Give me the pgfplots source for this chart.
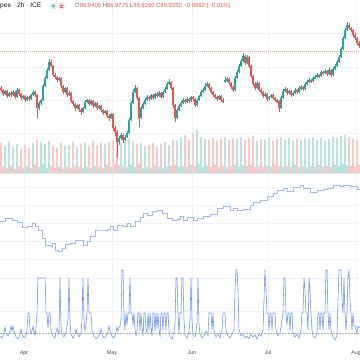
\documentclass[border=0pt]{standalone}
\usepackage{fontspec}
\setmainfont{Liberation Sans}
\usepackage{pgfplots}
\pgfplotsset{compat=1.18}
\usepackage{pgfplotstable}
\definecolor{up}{HTML}{26A69A}
\definecolor{dn}{HTML}{EF5350}
\definecolor{upv}{HTML}{96D3CD}
\definecolor{dnv}{HTML}{F6ABA9}
\definecolor{ln}{HTML}{2962FF}
\definecolor{txt}{HTML}{131722}
\definecolor{gridc}{HTML}{E3E6EC}
\definecolor{pline}{HTML}{F4A3A3}

\pgfplotstableread{
x o h l c v
1 88 86 92 90 30
3 90 89 96 94 6
5 94 90 95 91 27
7 91 90 98 96 5
9 96 92 97 93 31
11 93 91 97 95 7
13 95 90 96 92 26
15 92 91 99 97 4
17 97 88 98 90 29
19 90 89 96 94 6
21 94 93 100 98 24
23 98 95 99 96 5
25 96 95 102 100 28
27 100 96 101 97 7
29 97 96 101 99 25
31 99 94 100 95 5
33 95 90 96 92 30
35 92 91 97 95 8
37 95 94 118 108 33
39 108 101 110 103 6
41 103 99 105 100 31
43 100 84 101 86 9
45 86 76 87 78 29
47 78 68 79 70 5
49 70 59 71 62 32
51 62 60 68 66 7
53 66 65 77 75 27
55 75 73 79 77 5
57 77 76 82 80 25
59 80 77 81 78 6
61 78 77 88 86 30
63 86 85 94 92 4
65 92 87 93 88 27
67 88 87 97 95 6
69 95 91 96 93 28
71 93 92 103 101 5
73 101 100 106 104 31
75 104 103 111 108 7
77 108 104 109 105 26
79 105 104 112 110 6
81 110 108 115 112 29
83 112 107 113 108 5
85 108 100 109 102 30
87 102 99 103 100 6
89 100 99 106 104 27
91 104 100 105 101 5
93 101 100 108 106 32
95 106 102 107 103 7
97 103 102 110 108 28
99 108 105 109 106 6
101 106 105 112 110 30
103 110 109 115 113 5
105 113 110 114 111 29
107 111 110 118 116 8
109 116 114 121 118 31
111 118 113 119 114 6
113 114 113 131 128 33
115 128 126 136 132 9
117 132 130 158 142 35
119 142 136 145 138 8
121 138 133 140 135 30
123 135 134 143 140 7
125 140 135 141 137 32
127 137 131 138 133 6
129 133 118 134 120 34
131 120 101 121 103 8
133 103 89 104 92 31
135 92 85 93 88 6
137 88 87 100 98 29
139 98 97 127 118 9
141 118 106 119 108 30
143 108 102 109 104 5
145 104 98 105 100 27
147 100 95 101 97 6
149 97 96 101 99 28
151 99 94 100 95 5
153 95 94 100 98 30
155 98 93 99 94 7
157 94 92 98 96 26
159 96 91 97 93 6
161 93 92 99 97 29
163 97 91 98 92 5
165 92 87 93 89 31
167 89 82 90 84 6
169 84 79 85 82 28
171 82 81 90 88 7
173 88 87 108 105 33
175 105 104 122 118 8
177 118 108 119 110 32
179 110 104 111 106 6
181 106 101 107 103 35
183 103 98 104 100 7
185 100 99 104 102 38
187 102 97 103 99 6
189 99 98 103 101 33
191 101 96 102 97 8
193 97 96 101 99 40
195 99 98 107 105 7
197 105 99 106 100 43
199 100 95 101 96 9
201 96 90 97 92 36
203 92 88 93 90 6
205 90 83 91 86 34
207 86 82 87 84 7
209 84 83 90 88 33
211 88 87 94 92 6
213 92 91 97 95 35
215 95 94 99 97 8
217 97 96 101 99 32
219 99 95 100 96 6
221 96 95 102 100 34
223 100 98 103 101 7
225 82 77 83 80 36
227 80 77 82 79 6
229 79 78 85 83 33
231 83 82 89 87 7
233 87 86 92 90 35
235 90 76 91 78 8
237 78 70 79 72 34
239 72 64 73 66 6
241 66 59 67 61 36
243 61 53 62 56 8
245 56 55 65 63 33
247 63 55 64 57 7
249 57 56 68 66 35
251 66 65 78 76 8
253 76 75 86 84 37
255 84 82 90 88 6
257 88 81 89 83 32
259 83 82 92 90 7
261 90 88 94 92 34
263 92 91 98 96 6
265 96 92 97 94 33
267 94 93 101 99 7
269 99 96 100 97 35
271 97 94 98 95 6
273 95 94 100 98 32
275 98 97 102 100 8
277 100 99 103 101 34
279 101 100 112 108 7
281 108 96 109 98 36
283 98 89 99 91 6
285 91 87 92 89 33
287 89 88 95 93 7
289 93 90 94 91 35
291 91 90 97 95 6
293 95 92 96 93 32
295 93 88 94 90 8
297 90 89 94 92 34
299 92 86 93 88 6
301 88 85 90 87 33
303 87 86 91 89 7
305 89 82 90 84 35
307 84 80 85 82 6
309 82 78 83 80 34
311 80 79 83 81 7
313 81 76 82 78 36
315 78 75 79 77 6
317 77 73 78 75 33
319 75 74 78 76 8
321 76 70 77 72 35
323 72 71 75 73 6
325 73 69 74 71 32
327 71 70 76 74 7
329 74 68 75 70 34
331 70 69 77 75 6
333 75 67 76 69 36
335 69 64 70 66 8
337 66 60 67 62 35
339 62 55 63 57 7
341 57 47 58 49 37
343 49 36 50 38 9
345 38 28 39 30 38
347 30 22 31 25 8
349 25 23 30 28 36
351 28 27 32 30 7
353 30 29 37 35 34
355 35 33 40 38 6
357 38 37 45 43 33
359 43 41 48 46 8
}\candles

\pgfplotstableread{
x y
0 221.7
5 218
12 220
17 222.7
22 227.7
27 226.7
32 223
35 226.7
38 230
42 238
45 245
50 246.7
52 243
55 250
58 251.7
62 248
65 244
70 243
75 240.7
80 240
83 245
87 241.7
90 236.7
95 230
100 230
107 229
110 226.7
113 230
117 225
122 226.7
127 223.3
130 226.7
135 221.7
140 217.3
143 213.3
147 215
152 211.7
157 210
162 213.3
167 218.3
172 220
177 219.3
180 216.7
183 220
187 217.7
193 220
197 218.3
203 216.7
210 214
217 208.3
223 206
227 206.7
230 210.7
233 208.3
237 210
243 209.3
250 205
253 202.7
260 200
267 196.7
273 193.3
277 190
283 188.3
287 191.7
293 187.3
300 185
303 188.3
310 192.7
317 190
323 189.3
327 188.3
333 185
340 186
343 185
350 186.7
357 189.3
360 192.7
}\lineB

\pgfplotstableread{
x y
0 336
2 338
4 333
5 327
6 333
8 336
10 331
11 326
12 331
13 326
14 331
16 337
18 339
20 334
21 329
22 334
24 338
26 336
27 330
28 313
29 313
30 328
31 334
32 331
33 326
34 331
35 336
36 328
37 314
38 278
45 278
45.5 290
46 313
47 313
48 328
49 313
50 313
51 330
53 336
55 338
56 332
57 328
59 334
60 278
61 325
62 334
64 337
66 332
67 327
68 320
69 278
70 322
71 334
73 338
75 335
76 329
77 333
79 337
81 333
82 320
83 278
84 320
85 330
86 325
87 312
88 278
89 312
90 313
91 313
92 330
94 336
96 339
98 337
100 333
101 328
102 334
104 338
106 336
108 331
109 326
110 331
112 336
114 338
116 332
117 327
118 331
120 326
121 320
122 270
123 270
124 315
125 330
126 313
127 325
128 313
129 313
130 278
131 313
132 313
133 325
134 313
135 330
136 336
137 331
138 313
139 313
140 330
141 313
142 327
143 336
144 313
145 313
146 330
147 333
148 313
149 330
150 313
151 326
152 336
153 313
154 313
155 331
156 313
157 328
158 313
159 330
160 336
161 313
162 313
163 330
164 313
165 313
166 330
167 313
168 313
169 330
170 337
172 339
174 332
175 324
176 278
177 278
178 313
179 334
180 313
181 313
182 278
183 278
184 320
185 335
187 338
189 332
190 320
191 278
192 320
193 334
195 337
197 325
198 278
199 325
200 334
202 338
204 336
206 331
208 335
209 313
211 313
212 330
213 313
214 330
216 337
218 334
220 338
222 330
223 313
225 313
226 330
228 336
230 338
232 334
234 330
235 290
236 270
237 270
238 290
239 330
241 336
243 334
245 338
247 336
249 339
251 334
253 337
255 335
257 339
259 334
261 336
263 330
264 300
265 270
266 290
267 313
268 313
269 330
270 313
271 313
272 330
273 313
275 313
276 330
278 336
280 333
282 320
283 313
284 278
285 278
286 313
287 325
288 313
289 313
290 330
291 313
292 313
293 333
295 337
297 334
299 338
301 330
302 313
303 313
304 278
305 290
306 313
307 313
308 330
309 278
310 290
311 313
312 330
313 336
315 338
317 334
318 313
319 313
320 330
321 313
322 313
323 330
324 313
325 313
326 270
327 270
328 313
329 330
330 313
331 330
333 337
335 340
337 335
338 300
339 270
341 270
342 300
343 313
344 278
345 313
346 330
347 313
348 278
349 270
350 300
351 313
352 330
353 313
354 326
355 326
356 330
357 333
358 326
360 328
}\lineC

\begin{document}
\begin{tikzpicture}
\useasboundingbox (0pt,0pt) rectangle (360pt,360pt);
\pgfplotsset{
  pane/.style={
    scale only axis, width=360pt, xmin=0, xmax=360,
    anchor=south west,
    axis line style={draw=none}, tick style={draw=none},
    xtick={24,112,192,268,356},
    xticklabel=\empty, yticklabel=\empty,
    grid=major,
    grid style={dash pattern=on 0.8pt off 1.2pt, color=gridc, line width=0.5pt},
    clip=true,
  },
}
% volume
\begin{axis}[pane, at={(0pt,187pt)}, height=48pt, ymin=0, ymax=48, grid=none, ytick=\empty, xtick=\empty]
  \addplot[ybar, bar width=1.1pt, bar shift=0pt, draw=none, fill=upv]
    table[x=x, y expr={\thisrow{c}<\thisrow{o} ? \thisrow{v} : nan}] {\candles};
  \addplot[ybar, bar width=1.1pt, bar shift=0pt, draw=none, fill=dnv]
    table[x=x, y expr={\thisrow{c}<\thisrow{o} ? nan : \thisrow{v}}] {\candles};
\end{axis}
% price
\begin{axis}[pane, at={(0pt,187pt)}, height=173pt, ymin=0, ymax=173, y dir=reverse,
  ytick={33,67,100,133}]
  \addplot[dash pattern=on 0.8pt off 1.2pt, color=pline, line width=0.6pt] coordinates {(0,51) (360,51)};
  \addplot[draw=none, mark=none, error bars/.cd, y dir=both, y explicit, error mark=none,
    error bar style={up, line width=0.4pt}]
    table[x=x, y expr={\thisrow{c}<\thisrow{o} ? (\thisrow{h}+\thisrow{l})/2 : nan},
      y error expr={(\thisrow{l}-\thisrow{h})/2}] {\candles};
  \addplot[draw=none, mark=none, error bars/.cd, y dir=both, y explicit, error mark=none,
    error bar style={dn, line width=0.4pt}]
    table[x=x, y expr={\thisrow{c}<\thisrow{o} ? nan : (\thisrow{h}+\thisrow{l})/2},
      y error expr={(\thisrow{l}-\thisrow{h})/2}] {\candles};
  \addplot[draw=none, mark=none, error bars/.cd, y dir=both, y explicit, error mark=none,
    error bar style={up, line width=1.1pt}]
    table[x=x, y expr={\thisrow{c}<\thisrow{o} ? (\thisrow{o}+\thisrow{c})/2 : nan},
      y error expr={abs(\thisrow{o}-\thisrow{c})/2+0.3}] {\candles};
  \addplot[draw=none, mark=none, error bars/.cd, y dir=both, y explicit, error mark=none,
    error bar style={dn, line width=1.1pt}]
    table[x=x, y expr={\thisrow{c}<\thisrow{o} ? nan : (\thisrow{o}+\thisrow{c})/2},
      y error expr={abs(\thisrow{o}-\thisrow{c})/2+0.3}] {\candles};
\end{axis}
\draw[color=gridc, line width=0.6pt] (0pt,187pt) -- (360pt,187pt);
% pane 2
\begin{axis}[pane, at={(0pt,99pt)}, height=88pt, ymin=173, ymax=261, y dir=reverse,
  ytick={187,205,223,241,259}]
  \addplot[const plot, color=ln!45, line width=0.9pt] table[x=x,y=y] {\lineB};
\end{axis}
% pane 3
\begin{axis}[pane, at={(0pt,14pt)}, height=85pt, ymin=261, ymax=346, y dir=reverse,
  ytick={278,311},
  xticklabels={Apr,May,Jun,Jul,Aug},
  xticklabel style={font=\fontsize{5.3}{6}\selectfont, text=txt!80, yshift=-1pt}]
  \addplot[dash pattern=on 1.5pt off 1.5pt, color=black!30, line width=0.5pt] coordinates {(0,333) (360,333)};
  \addplot[sharp plot, color=ln!70, line width=0.55pt] table[x=x,y=y] {\lineC};
\end{axis}
% header
\node[anchor=west, inner sep=0pt, text=txt, font=\fontsize{6.6}{7}\selectfont] at (0pt,354pt) {pee · 2h · ICE};
\node[fill=up!22, rounded corners=2pt, minimum width=6.5pt, minimum height=6pt, inner sep=0pt] at (53.5pt,354pt) {};
\fill[up] (53.5pt,354pt) circle (1.1pt);
\node[fill=dn!22, rounded corners=2pt, minimum width=6.5pt, minimum height=6pt, inner sep=0pt] at (61.5pt,354pt) {};
\draw[dn, line width=0.4pt] (60pt,353.3pt) -- (63pt,353.3pt) (60pt,354.7pt) -- (63pt,354.7pt);
\node[anchor=west, inner sep=0pt, font=\fontsize{5.9}{7}\selectfont] at (75pt,354pt)
  {\textcolor{txt!70}{O}\textcolor{dn}{86.9400} \textcolor{txt!70}{H}\textcolor{dn}{86.9775} \textcolor{txt!70}{L}\textcolor{dn}{86.9260} \textcolor{txt!70}{C}\textcolor{dn}{86.9350 −0.0060 (−0.01\%)}};
\end{tikzpicture}
\end{document}
